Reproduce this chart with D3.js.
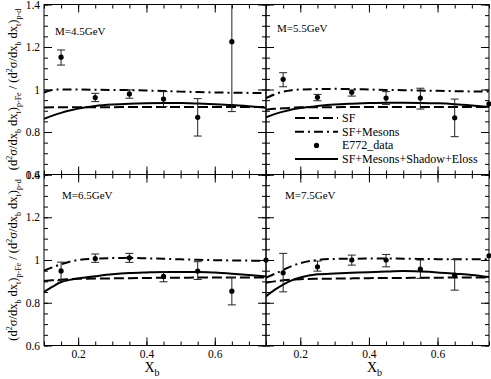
<!DOCTYPE html>
<html>
<head>
<meta charset="utf-8">
<script src="https://cdn.jsdelivr.net/npm/d3@7"></script>
<style>
  body { margin: 0; background: #fff; }
  svg { display: block; }
  svg text { font-family: "Liberation Serif", "DejaVu Serif", serif; }
</style>
</head>
<body>
<script>
// Drell-Yan ratio p-Fe / p-d versus x_b, four mass bins

// x grid of the model curves
var curveX = [0.1, 0.125, 0.15, 0.175, 0.2, 0.25, 0.3, 0.35, 0.4, 0.45, 0.5, 0.55, 0.6, 0.65, 0.7, 0.75];

// x positions of the E772 points
var dataX = [0.15, 0.25, 0.35, 0.45, 0.55, 0.65, 0.75];

var massLabels = ["M=4.5GeV", "M=5.5GeV", "M=6.5GeV", "M=7.5GeV"];

// SF (dashed)
var sfCurve = [
    [0.915, 0.916, 0.916, 0.917, 0.917, 0.917, 0.917, 0.918, 0.918, 0.918, 0.918, 0.918, 0.918, 0.918, 0.918, 0.918],
    [0.905, 0.909, 0.912, 0.914, 0.916, 0.917, 0.917, 0.918, 0.918, 0.918, 0.918, 0.918, 0.918, 0.918, 0.918, 0.918],
    [0.902, 0.905, 0.908, 0.910, 0.912, 0.913, 0.914, 0.915, 0.916, 0.917, 0.917, 0.918, 0.918, 0.918, 0.918, 0.918],
    [0.893, 0.900, 0.905, 0.908, 0.910, 0.912, 0.913, 0.914, 0.915, 0.916, 0.916, 0.917, 0.917, 0.918, 0.918, 0.918]
];

// SF+Mesons (dash-dot)
var mesonCurve = [
    [0.985, 0.998, 1.000, 1.000, 1.000, 0.999, 0.998, 0.997, 0.995, 0.993, 0.990, 0.988, 0.986, 0.985, 0.984, 0.983],
    [0.960, 0.977, 0.990, 0.997, 1.000, 1.002, 1.003, 1.002, 1.000, 0.998, 0.997, 0.995, 0.994, 0.992, 0.991, 0.990],
    [0.950, 0.966, 0.980, 0.992, 1.000, 1.006, 1.009, 1.010, 1.008, 1.006, 1.003, 1.001, 0.999, 0.998, 0.997, 0.996],
    [0.918, 0.935, 0.953, 0.972, 0.985, 1.000, 1.005, 1.006, 1.007, 1.007, 1.006, 1.005, 1.004, 1.003, 1.003, 1.003]
];

// SF+Mesons+Shadow+Eloss (solid)
var fullCurve = [
    [0.862, 0.877, 0.890, 0.901, 0.910, 0.922, 0.929, 0.933, 0.935, 0.936, 0.936, 0.934, 0.931, 0.927, 0.921, 0.914],
    [0.869, 0.884, 0.896, 0.906, 0.913, 0.922, 0.929, 0.933, 0.936, 0.938, 0.938, 0.937, 0.935, 0.931, 0.925, 0.918],
    [0.850, 0.875, 0.897, 0.907, 0.914, 0.924, 0.933, 0.939, 0.942, 0.944, 0.944, 0.944, 0.941, 0.936, 0.930, 0.923],
    [0.830, 0.860, 0.885, 0.905, 0.918, 0.933, 0.937, 0.940, 0.943, 0.946, 0.948, 0.946, 0.942, 0.936, 0.930, 0.920]
];

// E772 data: value, lower and upper end of the error bar
var e772Value = [
    [1.152, 0.962, 0.979, 0.955, 0.869, 1.225, null],
    [1.048, 0.963, 0.987, 0.960, 0.960, 0.867, 0.932],
    [0.949, 1.007, 1.010, 0.923, 0.948, 0.854, 1.000],
    [0.940, 0.968, 1.000, 1.000, 0.957, 0.929, 1.020]
];
var e772Low = [
    [1.115, 0.943, 0.959, 0.919, 0.781, 0.896, null],
    [1.013, 0.947, 0.969, 0.930, 0.908, 0.778, null],
    [0.903, 0.989, 0.989, 0.898, 0.909, 0.790, null],
    [0.851, 0.948, 0.976, 0.968, 0.914, 0.859, null]
];
var e772High = [
    [1.186, 0.982, 0.998, 0.990, 0.957, 1.560, null],
    [1.079, 0.977, 0.998, 0.990, 1.006, 0.955, null],
    [0.990, 1.028, 1.031, 0.945, 0.992, 0.918, null],
    [1.031, 0.995, 1.023, 1.026, 1.000, 1.003, null]
];

// Tick values
var xMajorTicks = [0.2, 0.4, 0.6];
var yMajorTicks = [0.6, 0.8, 1, 1.2, 1.4];
var xMinorTicks = d3.range(0.1, 0.76, 0.05);
var yMinorTicks = d3.range(0.6, 1.41, 0.05);

// Layout
var colX = [[44, 266], [266, 489]];
var rowY = [[4.5, 174.5], [174.5, 345.5]];
var panels = [
    {col: 0, row: 0, lx: 55, ly: 35},
    {col: 1, row: 0, lx: 277, ly: 32},
    {col: 0, row: 1, lx: 62, ly: 198.5},
    {col: 1, row: 1, lx: 285, ly: 199}
];
var dashSF = "10,4";
var dashMes = "9,4,2,4";

var svg = d3.select("body").append("svg")
    .attr("width", 491)
    .attr("height", 379);

var defs = svg.append("defs");

panels.forEach(function (p, i) {
    var x = d3.scaleLinear().domain([0.1, 0.75]).range(colX[p.col]);
    var y = d3.scaleLinear().domain([0.6, 1.4]).range([rowY[p.row][1], rowY[p.row][0]]);
    var x0 = colX[p.col][0], x1 = colX[p.col][1];
    var y0 = rowY[p.row][0], y1 = rowY[p.row][1];

    defs.append("clipPath").attr("id", "clip" + i)
        .append("rect")
        .attr("x", x0).attr("y", y0)
        .attr("width", x1 - x0).attr("height", y1 - y0);

    var g = svg.append("g");
    var plot = g.append("g").attr("clip-path", "url(#clip" + i + ")");

    var line = d3.line()
        .x(function (d, j) { return x(curveX[j]); })
        .y(function (d) { return y(d); })
        .curve(d3.curveMonotoneX);

    plot.append("path").datum(sfCurve[i])
        .attr("d", line).attr("fill", "none")
        .attr("stroke", "#000").attr("stroke-width", 2)
        .attr("stroke-dasharray", dashSF);
    plot.append("path").datum(mesonCurve[i])
        .attr("d", line).attr("fill", "none")
        .attr("stroke", "#000").attr("stroke-width", 2)
        .attr("stroke-dasharray", dashMes);
    plot.append("path").datum(fullCurve[i])
        .attr("d", line).attr("fill", "none")
        .attr("stroke", "#000").attr("stroke-width", 2);

    // error bars
    var pts = dataX.map(function (xv, j) {
        return {x: xv, v: e772Value[i][j], lo: e772Low[i][j], hi: e772High[i][j]};
    });
    var bars = pts.filter(function (d) { return d.lo != null; });
    var eb = plot.selectAll(".err").data(bars).enter().append("g").attr("class", "err")
        .attr("stroke", "#222").attr("stroke-width", 1);
    eb.append("line")
        .attr("x1", function (d) { return x(d.x); }).attr("x2", function (d) { return x(d.x); })
        .attr("y1", function (d) { return y(d.lo); }).attr("y2", function (d) { return y(d.hi); });
    eb.append("line")
        .attr("x1", function (d) { return x(d.x) - 4; }).attr("x2", function (d) { return x(d.x) + 4; })
        .attr("y1", function (d) { return y(d.lo); }).attr("y2", function (d) { return y(d.lo); });
    eb.append("line")
        .attr("x1", function (d) { return x(d.x) - 4; }).attr("x2", function (d) { return x(d.x) + 4; })
        .attr("y1", function (d) { return y(d.hi); }).attr("y2", function (d) { return y(d.hi); });

    g.selectAll(".dot").data(pts.filter(function (d) { return d.v != null; }))
        .enter().append("circle").attr("class", "dot")
        .attr("cx", function (d) { return x(d.x); })
        .attr("cy", function (d) { return y(d.v); })
        .attr("r", 2.6)
        .attr("fill", "#000");

    // axes: minor + major ticks, all pointing inward
    function axis(gen, tx, ty, vals, size, labels) {
        var a = gen.tickValues(vals).tickSize(-size).tickPadding(4)
            .tickFormat(labels ? function (d) { return String(+d.toFixed(1)); } : "");
        var ag = g.append("g").attr("transform", "translate(" + tx + "," + ty + ")").call(a);
        ag.attr("font-family", null).attr("font-size", null);
        ag.select(".domain").remove();
        ag.selectAll("line").attr("stroke", "#000");
        ag.selectAll("text").attr("font-size", "11.5px").attr("fill", "#000");
        return ag;
    }
    axis(d3.axisBottom(x), 0, y1, xMinorTicks, 4, false);
    axis(d3.axisBottom(x), 0, y1, xMajorTicks, 8, p.row == 1);
    axis(d3.axisTop(x), 0, y0, xMinorTicks, 4, false);
    axis(d3.axisTop(x), 0, y0, xMajorTicks, 8, false);
    axis(d3.axisLeft(y), x0, 0, yMinorTicks, 4, false);
    axis(d3.axisLeft(y), x0, 0, yMajorTicks, 8, p.col == 0);
    axis(d3.axisRight(y), x1, 0, yMinorTicks, 4, false);
    axis(d3.axisRight(y), x1, 0, yMajorTicks, 8, false);

    g.append("rect")
        .attr("x", x0).attr("y", y0)
        .attr("width", x1 - x0).attr("height", y1 - y0)
        .attr("fill", "none").attr("stroke", "#000").attr("stroke-width", 1);

    g.append("text")
        .attr("x", p.lx).attr("y", p.ly)
        .attr("font-size", "11px")
        .text(massLabels[i]);

    // x axis title
    if (p.row == 1) {
        var xt = g.append("text")
            .attr("x", (x0 + x1) / 2 - 3).attr("y", 372)
            .attr("text-anchor", "middle")
            .attr("font-size", "14px");
        xt.append("tspan").text("X");
        xt.append("tspan").attr("font-size", "10px").attr("dy", 4).text("b");
    }

    // y axis title
    if (p.col == 0) {
        var yt = g.append("text")
            .attr("transform", "translate(17," + ((y0 + y1) / 2) + ") rotate(-90)")
            .attr("text-anchor", "middle")
            .attr("font-size", "12.5px");
        var parts = [
            ["(d", 0, 12.5], ["2", -5, 8], ["\u03c3/dx", 0, 12.5], ["b", 3.5, 8], [" dx", 0, 12.5], ["t", 3.5, 8],
            [")", 0, 12.5], ["p-Fe", 3.5, 8], [" / (d", 0, 12.5], ["2", -5, 8], ["\u03c3/dx", 0, 12.5], ["b", 3.5, 8],
            [" dx", 0, 12.5], ["t", 3.5, 8], [")", 0, 12.5], ["p-d", 3.5, 8]
        ];
        var cur = 0;
        parts.forEach(function (q) {
            yt.append("tspan").attr("dy", q[1] - cur).attr("font-size", q[2] + "px").text(q[0]);
            cur = q[1];
        });
    }
});

// Legend in the upper right panel
var legendItems = ["SF", "SF+Mesons", "E772_data", "SF+Mesons+Shadow+Eloss"];
var legend = svg.append("g").attr("transform", "translate(295,118)");
legendItems.forEach(function (name, k) {
    var row = legend.append("g").attr("transform", "translate(0," + (k * 13.7) + ")");
    if (k == 2) {
        row.append("circle").attr("cx", 21.5).attr("cy", 0).attr("r", 2.6).attr("fill", "#000");
    } else {
        row.append("line").attr("x1", 0).attr("x2", 43).attr("y1", 0).attr("y2", 0)
            .attr("stroke", "#000").attr("stroke-width", 2)
            .attr("stroke-dasharray", k == 0 ? dashSF : (k == 1 ? dashMes : null));
    }
    row.append("text").attr("x", 47).attr("y", 4).attr("font-size", "12px").text(name);
});
</script>
</body>
</html>
